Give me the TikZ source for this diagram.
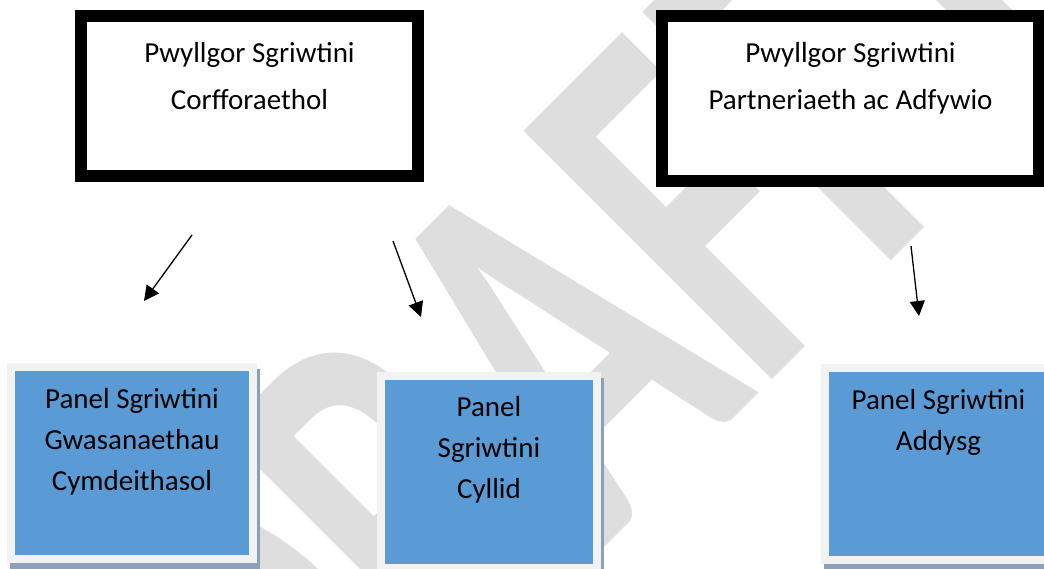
\documentclass[tikz,border=0pt]{standalone}
\usepackage{fontspec}
\setmainfont{Carlito}
\usetikzlibrary{positioning,arrows.meta,backgrounds}

\definecolor{panelblue}{RGB}{91,155,213}
\definecolor{panelframe}{RGB}{242,242,242}
\definecolor{panelshadow}{RGB}{140,160,185}
\definecolor{wmgray}{RGB}{222,222,222}

\tikzset{
  pwyllgor/.style={draw=black,line width=12pt,fill=white,inner sep=0pt,outer sep=0pt},
  panel/.style={draw=panelframe,line width=8pt,fill=panelblue,inner sep=0pt,outer sep=0pt,minimum height=192pt},
  boxtext/.style={align=center,inner sep=0pt,font=\fontsize{29}{47}\selectfont},
  paneltext/.style={boxtext,font=\fontsize{29}{41}\selectfont},
  flow/.style={-{Triangle[length=15pt,width=15pt]},line width=1.3pt},
  wmark/.style={transform shape,anchor=base,inner sep=0pt,text=wmgray,font=\fontsize{366}{366}\bfseries\selectfont}
}

\begin{document}
\begin{tikzpicture}[x=1pt,y=-1pt]
  \useasboundingbox (0,0) rectangle (1044,569);
  \clip (0,0) rectangle (1044,569);

  % pwyllgorau
  \node[pwyllgor,minimum width=337pt,minimum height=160pt] (corp) at (249.5,96) {};
  \node[pwyllgor,minimum width=377pt,minimum height=165pt] (part) at (850.5,98.5) {};
  \node[boxtext,below=26pt of corp.north] (corp-txt) {Pwyllgor Sgriwtini\\Corfforaethol};
  \node[boxtext,below=26pt of part.north] (part-txt) {Pwyllgor Sgriwtini\\Partneriaeth ac Adfywio};

  % paneli
  \node[panel,minimum width=242pt] (pnl1) at (132,463) {};
  \node[panel,minimum width=216pt] (pnl2) at (489,472) {};
  \node[panel,minimum width=233pt] (pnl3) at (941.5,464) {};
  \node[paneltext,below=21pt of pnl1.north] (pnl1-txt) {Panel Sgriwtini\\Gwasanaethau\\Cymdeithasol};
  \node[paneltext,below=20pt of pnl2.north] (pnl2-txt) {Panel\\Sgriwtini\\Cyllid};
  \node[paneltext,below=21pt of {[xshift=-3pt]pnl3.north}] (pnl3-txt) {Panel Sgriwtini\\Addysg};

  \begin{pgfonlayer}{background}
    \begin{scope}[shift={(709,443)},rotate=45,yscale=1.48]
      \node[wmark] (drafft) at (0,0) {DRAFFT};
    \end{scope}
    \foreach \p in {pnl1,pnl2,pnl3}
      \fill[panelshadow] ([shift={(-1,2)}]\p.north west) rectangle ([shift={(7,10)}]\p.south east);
  \end{pgfonlayer}

  % saethau
  \coordinate (tail1) at (192,235);
  \coordinate (tip1) at (144,301);
  \coordinate (tail2) at (393,241);
  \coordinate (tip2) at (421,317);
  \coordinate (tail3) at (911,246);
  \coordinate (tip3) at (919,316);
  \foreach \i in {1,2,3}
    \draw[flow] (tail\i) -- (tip\i);
\end{tikzpicture}
\end{document}
